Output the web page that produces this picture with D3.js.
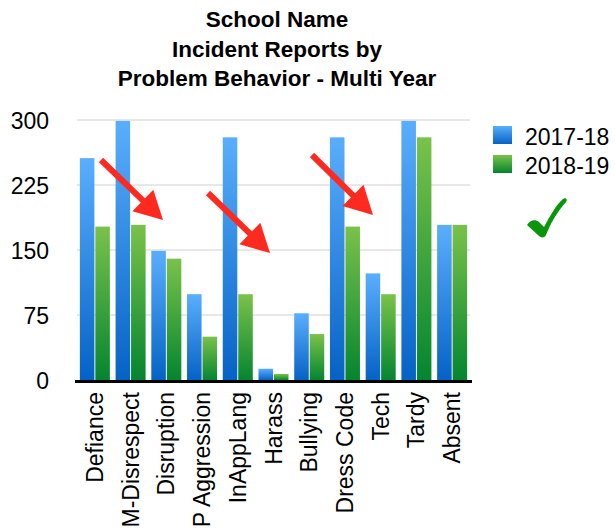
<!DOCTYPE html>
<html><head><meta charset="utf-8">
<script src="https://cdn.jsdelivr.net/npm/d3@7"></script>
<style>body{margin:0;background:#fff}svg{display:block}</style>
</head><body><svg id="c" width="615" height="531"></svg>
<script>
const categories = ["Defiance","M-Disrespect","Disruption","P Aggression","InAppLang","Harass","Bullying","Dress Code","Tech","Tardy","Absent"];
const seriesNames = ["2017-18","2018-19"];
const values2017 = [256,299,149,99,280,13,77,280,123,299,179];
const values2018 = [177,179,140,50,99,7,53,177,99,280,179];
const yTicks = [0,75,150,225,300];
const titleLines = ["School Name","Incident Reports by","Problem Behavior - Multi Year"];
const arrows = [[101,160,163,220],[208,193,270,253],[312,155,373,215]];

(function(){
const svg = d3.select("#c");
const font = "'Liberation Sans', Arial, Helvetica, sans-serif";
const pLeft = 77, pRight = 470, pTop = 120, pBottom = 380;

const defs = svg.append("defs");
const grads = [["#5aaefc","#0562c6"],["#7ac24a","#048530"]];
grads.forEach((g,i)=>{
  const lg = defs.append("linearGradient").attr("id","g"+i).attr("x1",0).attr("y1",0).attr("x2",0).attr("y2",1);
  lg.append("stop").attr("offset","0%").attr("stop-color",g[0]);
  lg.append("stop").attr("offset","100%").attr("stop-color",g[1]);
});

const y = d3.scaleLinear().domain([0,300]).range([pBottom,pTop]);
const x0 = d3.scaleBand().domain(categories).range([pLeft,pRight]).paddingInner(0.16).paddingOuter(0.08);
const x1 = d3.scaleBand().domain(seriesNames).range([0,x0.bandwidth()]).paddingInner(0.06);

// title
const tb = [27,57,86];
svg.append("g").selectAll("text").data(titleLines).join("text")
  .attr("x",277).attr("y",(d,i)=>tb[i]).attr("text-anchor","middle")
  .attr("font-family",font).attr("font-weight","bold").attr("font-size",22.5).attr("fill","#000").text(d=>d);

// gridlines
svg.append("g").selectAll("line").data(yTicks.filter(t=>t>0)).join("line")
  .attr("x1",pLeft).attr("x2",pRight).attr("y1",d=>y(d)).attr("y2",d=>y(d))
  .attr("stroke","#d0d0d0").attr("stroke-width",1);

// y axis labels
const yAxis = d3.axisLeft(y).tickValues(yTicks).tickSize(0).tickPadding(0);
const ya = svg.append("g").attr("transform","translate(49,0)").call(yAxis);
ya.select(".domain").remove();
ya.selectAll("text").attr("font-family",font).attr("font-size",23).attr("fill","#000").attr("dy","0.35em");

// bars
const rows = categories.map((c,i)=>({cat:c, vals:[values2017[i],values2018[i]]}));
const g = svg.append("g");
g.selectAll("g").data(rows).join("g").attr("transform",d=>`translate(${x0(d.cat)},0)`)
  .selectAll("rect").data(d=>d.vals.map((v,j)=>({v,j}))).join("rect")
  .attr("x",d=>x1(seriesNames[d.j])).attr("width",x1.bandwidth())
  .attr("y",d=>y(d.v)).attr("height",d=>y(0)-y(d.v)).attr("fill",d=>`url(#g${d.j})`);

// baseline
svg.append("line").attr("x1",pLeft-2).attr("x2",pRight+2).attr("y1",pBottom+1.5).attr("y2",pBottom+1.5)
  .attr("stroke","#000").attr("stroke-width",3);

// x axis labels
const xAxis = d3.axisBottom(x0).tickSize(0).tickPadding(0);
const xa = svg.append("g").attr("transform",`translate(0,${pBottom+12})`).call(xAxis);
xa.select(".domain").remove();
xa.selectAll("text").attr("font-family",font).attr("font-size",23).attr("fill","#000")
  .attr("text-anchor","end").attr("transform","rotate(-90)").attr("x",0).attr("y",0).attr("dy","0.35em");

// legend
const lg = svg.append("g");
seriesNames.forEach((s,i)=>{
  lg.append("rect").attr("x",493).attr("y",126+i*29).attr("width",19).attr("height",18).attr("fill",`url(#g${i})`);
  lg.append("text").attr("x",525).attr("y",145+i*29).attr("font-family",font).attr("font-size",23).attr("fill","#000").text(s);
});

// check mark
svg.append("path")
  .attr("d","M527,225 C530,220 535,219 539,222 L544,227 C550,216 556,205 563,199 C566,197 568,200 566,202 C556,213 550,225 546,235 C545,238 541,238 539,236 Z")
  .attr("fill","#0a960a");

// arrows
const ag = svg.append("g");
arrows.forEach(([x1a,y1a,x2a,y2a])=>{
  const ang = Math.atan2(y2a-y1a,x2a-x1a);
  const L = 28, W = 15;
  const bx = x2a - L*Math.cos(ang), by = y2a - L*Math.sin(ang);
  const px = -Math.sin(ang), py = Math.cos(ang);
  ag.append("line").attr("x1",x1a).attr("y1",y1a).attr("x2",bx+2*Math.cos(ang)).attr("y2",by+2*Math.sin(ang))
    .attr("stroke","#ff2a1f").attr("stroke-width",6);
  ag.append("path").attr("d",`M${x2a},${y2a} L${bx+W*px},${by+W*py} L${bx-W*px},${by-W*py} Z`).attr("fill","#ff2a1f");
});
})();
</script></body></html>
